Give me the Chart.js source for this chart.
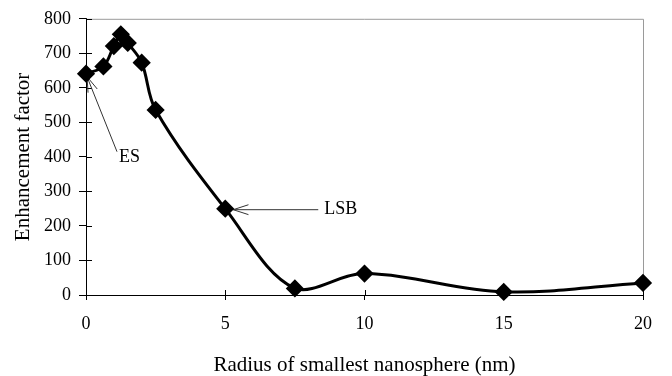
<!DOCTYPE html>
<html>
<head>
<meta charset="utf-8">
<script src="https://cdn.jsdelivr.net/npm/chart.js@4/dist/chart.umd.min.js"></script>
<style>
  html, body { margin: 0; padding: 0; background: #fff; }
  #wrap { width: 672px; height: 376px; }
</style>
</head>
<body>
<div id="wrap"><canvas id="chart" width="672" height="376"></canvas></div>
<script>
// ── Data ───────────────────────────────────────────
const radius = [0, 0.625, 1, 1.25, 1.5, 2, 2.5, 5, 7.5, 10, 15, 20];
const enhancement = [641, 662, 721, 755, 730, 673, 536, 250, 19, 62, 9, 35];
const xTickValues = [0, 5, 10, 15, 20];
const yTickValues = [0, 100, 200, 300, 400, 500, 600, 700, 800];
const calloutText = ['ES', 'LSB'];
const calloutIndex = [0, 7];

// ── Defaults ───────────────────────────────────────
Chart.defaults.font.family = "'Liberation Serif', 'Times New Roman', serif";
Chart.defaults.font.size = 18;
Chart.defaults.color = '#000';

// gray frame on top and right of plot area
const frame = {
    id: 'frame',
    beforeDatasetsDraw(chart) {
        const { ctx, chartArea: a } = chart;
        ctx.save();
        ctx.strokeStyle = '#9a9a9a';
        ctx.lineWidth = 1;
        ctx.beginPath();
        ctx.moveTo(a.left, a.top + 0.5);
        ctx.lineTo(a.right + 0.5, a.top + 0.5);
        ctx.lineTo(a.right + 0.5, a.bottom);
        ctx.stroke();
        ctx.restore();
    }
};

// inner half of the tick marks (ticks cross the axes)
const crossTicks = {
    id: 'crossTicks',
    beforeDatasetsDraw(chart) {
        const { ctx, chartArea: a, scales } = chart;
        ctx.save();
        ctx.strokeStyle = '#000';
        ctx.lineWidth = 1;
        ctx.beginPath();
        yTickValues.forEach(v => {
            const y = Math.round(scales.y.getPixelForValue(v)) + 0.5;
            ctx.moveTo(a.left, y);
            ctx.lineTo(a.left + 6, y);
        });
        xTickValues.forEach(v => {
            const x = Math.round(scales.x.getPixelForValue(v)) + 0.5;
            ctx.moveTo(x, a.bottom);
            ctx.lineTo(x, a.bottom - 5);
        });
        ctx.stroke();
        ctx.restore();
    }
};

function arrow(ctx, tx, ty, fx, fy) {
    const ang = Math.atan2(fy - ty, fx - tx);
    const head = 16, spread = Math.PI / 10;
    ctx.beginPath();
    ctx.moveTo(fx, fy);
    ctx.lineTo(tx, ty);
    ctx.moveTo(tx + head * Math.cos(ang - spread), ty + head * Math.sin(ang - spread));
    ctx.lineTo(tx, ty);
    ctx.lineTo(tx + head * Math.cos(ang + spread), ty + head * Math.sin(ang + spread));
    ctx.stroke();
}

// ES / LSB labels with arrows
const callouts = {
    id: 'callouts',
    beforeDatasetsDraw(chart) {
        const { ctx } = chart;
        const pts = chart.getDatasetMeta(0).data;
        ctx.save();
        ctx.strokeStyle = '#333';
        ctx.lineWidth = 1;
        ctx.fillStyle = '#000';
        ctx.font = "18px 'Liberation Serif', serif";
        ctx.textBaseline = 'middle';
        ctx.textAlign = 'left';

        const es = pts[calloutIndex[0]];
        arrow(ctx, es.x + 1, es.y + 3, es.x + 31, es.y + 78);
        ctx.fillText(calloutText[0], es.x + 33, es.y + 84);

        const lsb = pts[calloutIndex[1]];
        arrow(ctx, lsb.x + 8, lsb.y + 1, lsb.x + 93, lsb.y + 1);
        ctx.fillText(calloutText[1], lsb.x + 99, lsb.y + 1);
        ctx.restore();
    }
};

new Chart(document.getElementById('chart'), {
    type: 'line',
    data: {
        datasets: [{
            data: radius.map((r, i) => ({ x: r, y: enhancement[i] })),
            borderColor: '#000',
            backgroundColor: '#000',
            borderWidth: 3,
            tension: 0.35,
            pointStyle: 'rectRot',
            pointRadius: 7,
            pointBackgroundColor: '#000',
            pointBorderColor: '#000',
            clip: false,
        }]
    },
    options: {
        responsive: false,
        animation: false,
        events: [],
        layout: { padding: { top: 13, right: 29, left: 0, bottom: 0 } },
        plugins: {
            legend: { display: false },
            tooltip: { enabled: false }
        },
        scales: {
            x: {
                type: 'linear',
                min: 0,
                max: 20,
                afterBuildTicks: s => { s.ticks = xTickValues.map(v => ({ value: v })); },
                afterFit: s => { s.height = 81; },
                border: { color: '#000', width: 1 },
                grid: { drawOnChartArea: false, tickLength: 5, color: '#000' },
                ticks: { padding: 13, maxRotation: 0 },
                title: {
                    display: true,
                    text: 'Radius of smallest nanosphere (nm)',
                    font: { size: 21, lineHeight: 1 },
                    padding: { top: 0, bottom: 0 }
                }
            },
            y: {
                min: 0,
                max: 800,
                afterBuildTicks: s => { s.ticks = yTickValues.map(v => ({ value: v })); },
                afterFit: s => { s.width = 86; },
                border: { color: '#000', width: 1 },
                grid: { drawOnChartArea: false, tickLength: 7, color: '#000' },
                ticks: { padding: 8 },
                title: {
                    display: true,
                    text: 'Enhancement factor',
                    font: { size: 21, lineHeight: 1 },
                    padding: { top: 13, bottom: 0 }
                }
            }
        }
    },
    plugins: [frame, crossTicks, callouts]
});
</script>
</body>
</html>
